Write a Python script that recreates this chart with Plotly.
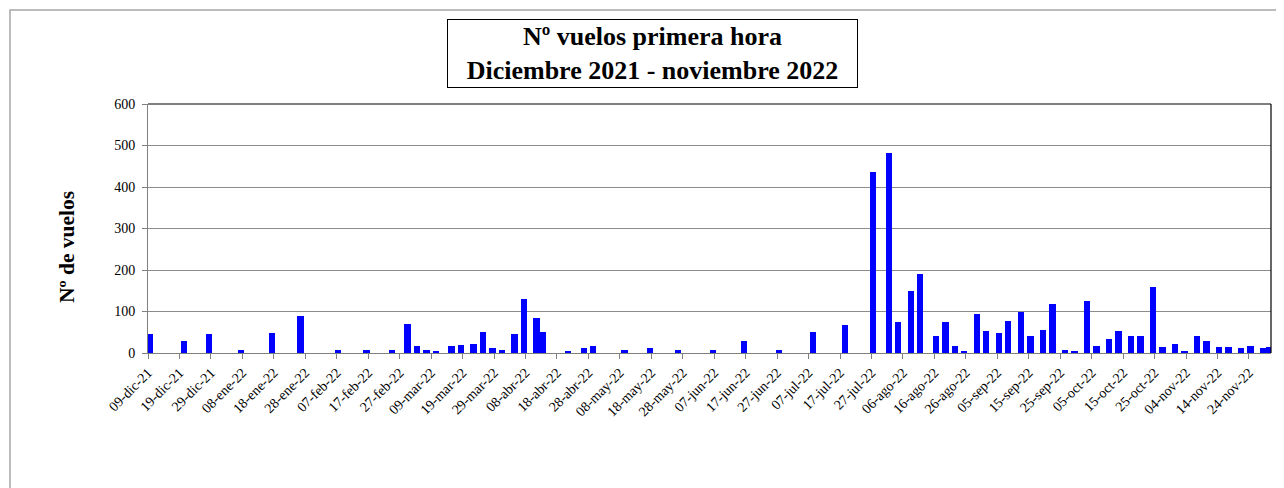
import plotly.graph_objects as go
from datetime import datetime

# ---- data ----
fechas = [
    "2021-12-09", "2021-12-20", "2021-12-28", "2022-01-07", "2022-01-17", "2022-01-26",
    "2022-02-07", "2022-02-16", "2022-02-24", "2022-03-01", "2022-03-04", "2022-03-07",
    "2022-03-10", "2022-03-15", "2022-03-18", "2022-03-22", "2022-03-25", "2022-03-28",
    "2022-03-31", "2022-04-04", "2022-04-07", "2022-04-11", "2022-04-13", "2022-04-21",
    "2022-04-26", "2022-04-29", "2022-05-09", "2022-05-17", "2022-05-26", "2022-06-06",
    "2022-06-16", "2022-06-27", "2022-07-08", "2022-07-18", "2022-07-27", "2022-08-01",
    "2022-08-04", "2022-08-08", "2022-08-11", "2022-08-16", "2022-08-19", "2022-08-22",
    "2022-08-25", "2022-08-29", "2022-09-01", "2022-09-05", "2022-09-08", "2022-09-12",
    "2022-09-15", "2022-09-19", "2022-09-22", "2022-09-26", "2022-09-29", "2022-10-03",
    "2022-10-06", "2022-10-10", "2022-10-13", "2022-10-17", "2022-10-20", "2022-10-24",
    "2022-10-27", "2022-10-31", "2022-11-03", "2022-11-07", "2022-11-10", "2022-11-14",
    "2022-11-17", "2022-11-21", "2022-11-24", "2022-11-28", "2022-11-30",
]
vuelos = [
    45, 30, 45, 8, 48, 88,
    8, 8, 8, 70, 18, 8,
    5, 16, 20, 22, 50, 12,
    8, 45, 130, 85, 50, 5,
    12, 16, 8, 13, 8, 8,
    28, 8, 50, 68, 437, 482,
    75, 150, 191, 42, 75, 16,
    5, 93, 53, 48, 78, 98,
    40, 55, 118, 8, 5, 125,
    18, 33, 53, 42, 40, 160,
    14, 22, 5, 40, 28, 14,
    14, 12, 18, 12, 14,
]
etiquetas_x = [
    "09-dic-21", "19-dic-21", "29-dic-21", "08-ene-22", "18-ene-22", "28-ene-22",
    "07-feb-22", "17-feb-22", "27-feb-22", "09-mar-22", "19-mar-22", "29-mar-22",
    "08-abr-22", "18-abr-22", "28-abr-22", "08-may-22", "18-may-22", "28-may-22",
    "07-jun-22", "17-jun-22", "27-jun-22", "07-jul-22", "17-jul-22", "27-jul-22",
    "06-ago-22", "16-ago-22", "26-ago-22", "05-sep-22", "15-sep-22", "25-sep-22",
    "05-oct-22", "15-oct-22", "25-oct-22", "04-nov-22", "14-nov-22", "24-nov-22",
]
meses = {"ene": 1, "feb": 2, "mar": 3, "abr": 4, "may": 5, "jun": 6,
         "jul": 7, "ago": 8, "sep": 9, "oct": 10, "nov": 11, "dic": 12}
valores_y = [0, 100, 200, 300, 400, 500, 600]

titulo = "<b>Nº vuelos primera hora<br>Diciembre 2021 - noviembre 2022</b>"
titulo_y = "<b>Nº de vuelos</b>"

def parse_es(s):
    d, m, y = s.split("-")
    return datetime(2000 + int(y), meses[m], int(d)).strftime("%Y-%m-%d")

tickvals = [parse_es(s) for s in etiquetas_x]

FONT = "Liberation Serif, Tinos, DejaVu Serif, serif"
DAY_MS = 86400000

fig = go.Figure()
fig.add_trace(go.Bar(
    x=fechas, y=vuelos,
    xperiod=DAY_MS, xperiodalignment="middle",
    width=2 * DAY_MS,
    marker=dict(color="#0000FF", line=dict(width=0)),
    showlegend=False,
))

# page has an 8px body margin: figure drawn from (8,8)
OFF = 8
W, H = 1284 - OFF, 488 - OFF
# plot area in reference pixels: x 148..1271, y 104..353
L, R = 148 - OFF, 1284 - 1271
T, B = 104 - OFF, 488 - 353
pw, ph = W - L - R, H - T - B
def px(x):  # reference pixel -> paper
    return (x - OFF - L) / pw
def py(y):
    return (H - B - (y - OFF)) / ph

fig.update_layout(
    width=W, height=H,
    template="none",
    paper_bgcolor="white", plot_bgcolor="white",
    margin=dict(l=L, r=R, t=T, b=B, autoexpand=False),
    font=dict(family=FONT, color="black"),
    bargap=0,
    xaxis=dict(
        type="date",
        range=["2021-12-09", "2022-12-01"],
        tickvals=tickvals, ticktext=etiquetas_x,
        tickangle=-45,
        tickfont=dict(family=FONT, size=14, color="black"),
        ticks="outside", ticklen=5, tickcolor="#808080", tickwidth=1,
        showline=True, linecolor="#808080", linewidth=1,
        showgrid=False, zeroline=False, automargin=False,
    ),
    yaxis=dict(
        range=[0, 600], tickvals=valores_y,
        tickfont=dict(family=FONT, size=14, color="black"),
        ticks="outside", ticklen=5, tickcolor="#808080", tickwidth=1,
        ticklabelstandoff=4,
        showline=True, linecolor="#808080", linewidth=1,
        showgrid=True, gridcolor="#8c8c8c", gridwidth=1,
        zeroline=False, automargin=False,
    ),
    shapes=[
        # outer chart border
        dict(type="rect", xref="paper", yref="paper",
             x0=px(10), x1=px(1300), y0=py(520), y1=py(10),
             line=dict(color="#a6a6a6", width=1.5), layer="below"),
        # plot area top & right border
        dict(type="line", xref="paper", yref="paper",
             x0=0, x1=1, y0=1, y1=1, line=dict(color="black", width=1.2)),
        dict(type="line", xref="paper", yref="paper",
             x0=1, x1=1, y0=0, y1=1, line=dict(color="black", width=1.2)),
    ],
    annotations=[
        dict(text=titulo, xref="paper", yref="paper",
             x=px(652), y=py(54), xanchor="center", yanchor="middle",
             showarrow=False, font=dict(family=FONT, size=26, color="black"),
             bordercolor="black", borderwidth=1, borderpad=1,
             width=407, height=65, bgcolor="white", align="center"),
        dict(text=titulo_y, xref="paper", yref="paper",
             x=px(67), y=py(247), xanchor="center", yanchor="middle",
             textangle=-90, showarrow=False,
             font=dict(family=FONT, size=21.5, color="black")),
    ],
)

fig.write_html("out.html")
